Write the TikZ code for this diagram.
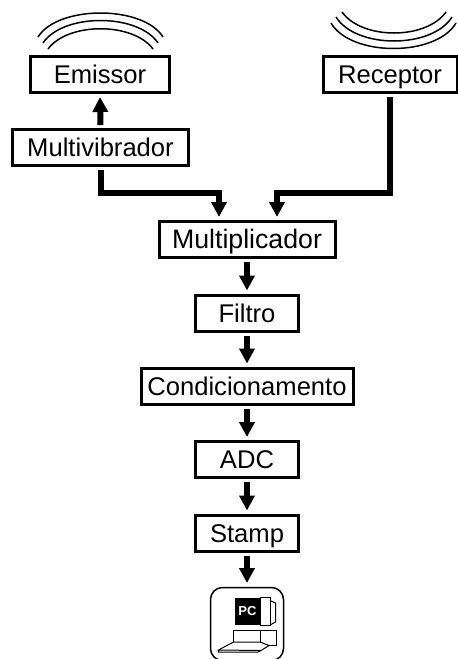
\documentclass[tikz,border=0pt]{standalone}
\usepackage{fontspec}
\setmainfont{Liberation Sans}
\usetikzlibrary{arrows.meta}

\begin{document}
\begin{tikzpicture}[x=1pt, y=-1pt,
caixa/.style={rectangle, draw=black, line width=3pt, inner sep=0pt, outer sep=4.5pt, minimum height=36pt, text height=19pt, text depth=1pt, font=\fontsize{25.6}{30}\selectfont},
seta/.style={-{Triangle[length=15pt,width=15pt]}, line width=6pt, black},
onda/.style={line width=1.5pt, black},
fino/.style={line width=1pt, black},
]
	\useasboundingbox (0,0) rectangle (458,659);

	\node[caixa, minimum width=139pt] at (100,74.5) (emissor) {Emissor};
	\node[caixa, minimum width=134pt] at (390,74.5) (receptor) {Receptor};
	\node[caixa, minimum width=176pt] at (100.5,147.5) (multivibrador) {Multivibrador};
	\node[caixa, minimum width=176pt, font=\fontsize{26.7}{30}\selectfont] at (247,239.5) (multiplicador) {Multiplicador};
	\node[caixa, minimum width=103pt] at (247,313) (filtro) {Filtro};
	\node[caixa, minimum width=212pt] at (247,386) (condicionamento) {Condicionamento};
	\node[caixa, minimum width=103pt] at (247,459.5) (adc) {ADC};
	\node[caixa, minimum width=103pt] at (247,533) (stamp) {Stamp};
	\node[rectangle, draw=black, line width=1.5pt, rounded corners=12pt, inner sep=0pt, outer sep=4.5pt, minimum width=73pt, minimum height=73pt] at (247,624) (pc) {};

	\coordinate (curva_esq) at (219,193);
	\coordinate (curva_dir) at (277,193);

	\draw[seta] (multivibrador.north) -- (emissor.south);
	\draw[seta] (multivibrador.south) |- (curva_esq) -- (curva_esq |- multiplicador.north);
	\draw[seta] (receptor.south) |- (curva_dir) -- (curva_dir |- multiplicador.north);
	\draw[seta] (multiplicador) -- (filtro);
	\draw[seta] (filtro) -- (condicionamento);
	\draw[seta] (condicionamento) -- (adc);
	\draw[seta] (adc) -- (stamp);
	\draw[seta] (stamp) -- (pc);

	% ondas
	\foreach \xa/\xb/\ya/\yc in {38/163/37/5, 43/158/43/13, 48/153/49/22}
		\draw[onda] (\xa,\ya) .. controls (\xa+20,\yc) and (\xb-20,\yc) .. (\xb,\ya);
	\foreach \xa/\xb/\ya/\yc in {342/446/12/40, 336/452/17/49, 331/456/23/57}
		\draw[onda] (\xa,\ya) .. controls (\xa+20,\yc) and (\xb-20,\yc) .. (\xb,\ya);

	% computador
	\draw[fino] (260,597.5) rectangle (270,625);
	\draw[fino] (270,600.5) -- (275.5,603) -- (275.5,622) -- (270,625);
	\node[rectangle, fill=black, draw=black, line width=1pt, text=white, inner sep=0pt, minimum width=25pt, minimum height=26pt, font=\bfseries\fontsize{13}{13}\selectfont] at (247.5,611) (monitor) {PC};
	\draw[fino] (233.5,630) rectangle (260,643);
	\draw[fino] (260,630) rectangle (276,645);
	\draw[fino, fill=white] (218.5,650) -- (233.5,642) -- (260,642) -- (269,645.5) -- (261,650.5) -- cycle;
	\draw[fino] (218.5,650) -- (218.5,652) -- (258,652) -- (261,650.5);
\end{tikzpicture}
\end{document}
